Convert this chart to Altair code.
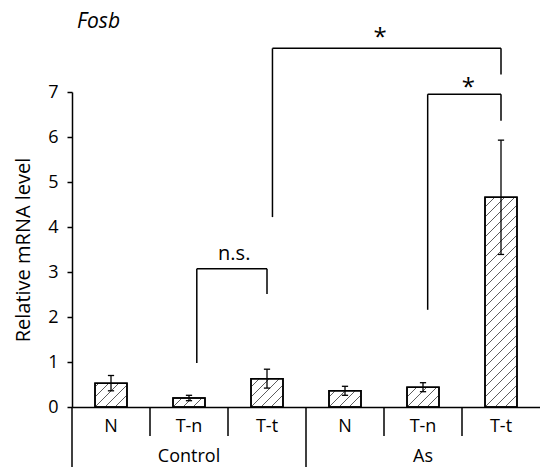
import altair as alt
import pandas as pd

# ---- data ----
groups = ["Control", "Control", "Control", "As", "As", "As"]
conditions = ["N", "T-n", "T-t", "N", "T-n", "T-t"]
means = [0.53, 0.20, 0.63, 0.36, 0.44, 4.66]
errors = [0.17, 0.06, 0.21, 0.10, 0.10, 1.27]

group_names = ["Control", "As"]
y_ticks = [0, 1, 2, 3, 4, 5, 6, 7]

# significance brackets (positions in category index units / y units)
br_left = [1.60, 2.57, 4.56]
br_right = [2.50, 5.50, 5.50]
br_top = [3.07, 7.97, 6.95]
br_left_bottom = [0.98, 4.22, 2.16]
br_right_bottom = [2.51, 7.39, 6.36]
br_label = ["n.s.", "*", "*"]
br_label_x = [2.08, 3.95, 5.08]
br_label_y = [3.27, 8.04, 6.93]

# ---- layout ----
W, H = 468, 315
N = len(conditions)
YMAX = 7
xpu = W / N
ypu = H / YMAX
half_w = 0.205
font = "Open Sans"

idx = list(range(N))
centers = [i + 0.5 for i in idx]
bars = pd.DataFrame({
    "x": centers,
    "x0": [c - half_w for c in centers],
    "x1": [c + half_w for c in centers],
    "mean": means,
    "lo": [m - e for m, e in zip(means, errors)],
    "hi": [m + e for m, e in zip(means, errors)],
    "cl": [c - 0.04 for c in centers],
    "cr": [c + 0.04 for c in centers],
    "cond": conditions,
    "group": groups,
})

# hatch segments (diagonal "/" lines) derived from each bar's extent
spacing = 10.0
hatch_rows = []
for c, m in zip(centers, means):
    lx = (c - half_w) * xpu
    w = 2 * half_w * xpu
    h = m * ypu
    k = -int(w / spacing) - 1
    while k * spacing < h:
        off = k * spacing
        u0 = max(0.0, -off)
        u1 = min(w, h - off)
        if u1 - u0 > 0.5:
            hatch_rows.append({
                "hx": (lx + u0) / xpu, "hy": (u0 + off) / ypu,
                "hx2": (lx + u1) / xpu, "hy2": (u1 + off) / ypu,
            })
        k += 1
hatch = pd.DataFrame(hatch_rows)

seg_rows = []
for a, b, t, lb, rb in zip(br_left, br_right, br_top, br_left_bottom, br_right_bottom):
    seg_rows.append({"sx": a, "sx2": a, "sy": lb, "sy2": t})
    seg_rows.append({"sx": a, "sx2": b, "sy": t, "sy2": t})
    seg_rows.append({"sx": b, "sx2": b, "sy": t, "sy2": rb})
segs = pd.DataFrame(seg_rows)
labels = pd.DataFrame({"lx": br_label_x, "ly": br_label_y, "txt": br_label,
                       "fs": [20, 24, 24]})

xs = alt.Scale(domain=[0, N], nice=False, zero=False)
ys = alt.Scale(domain=[0, YMAX], nice=False)

base_x_axis = alt.Axis(labels=False, ticks=False, title=None, grid=False,
                       domainColor="black", domainWidth=1.5)
y_axis = alt.Axis(values=y_ticks, title="Relative mRNA level", grid=False,
                  domainColor="black", domainWidth=1.5, tickColor="black",
                  tickWidth=1.5, tickSize=5, labelFontSize=18, labelFont=font,
                  labelColor="black", labelPadding=9, titleFont=font,
                  titleFontSize=20, titleFontWeight="normal", titleColor="black",
                  titlePadding=14)

bar_layer = alt.Chart(bars).mark_rect(fill="white", stroke="black", strokeWidth=1.5).encode(
    x=alt.X("x0:Q", scale=xs, axis=base_x_axis),
    x2="x1:Q",
    y=alt.Y("mean:Q", scale=ys, axis=y_axis),
    y2=alt.datum(0),
)

hatch_layer = alt.Chart(hatch).mark_rule(color="#333333", strokeWidth=0.8).encode(
    x=alt.X("hx:Q", scale=xs), x2="hx2:Q",
    y=alt.Y("hy:Q", scale=ys), y2="hy2:Q",
)

bar_outline = alt.Chart(bars).mark_rect(fill=None, stroke="black", strokeWidth=1.5).encode(
    x=alt.X("x0:Q", scale=xs), x2="x1:Q",
    y=alt.Y("mean:Q", scale=ys), y2=alt.datum(0),
)

err_v = alt.Chart(bars).mark_rule(color="black", strokeWidth=1.3).encode(
    x=alt.X("x:Q", scale=xs), y=alt.Y("lo:Q", scale=ys), y2="hi:Q",
)
cap_hi = alt.Chart(bars).mark_rule(color="black", strokeWidth=1.3).encode(
    x=alt.X("cl:Q", scale=xs), x2="cr:Q", y=alt.Y("hi:Q", scale=ys),
)
cap_lo = alt.Chart(bars).mark_rule(color="black", strokeWidth=1.3).encode(
    x=alt.X("cl:Q", scale=xs), x2="cr:Q", y=alt.Y("lo:Q", scale=ys),
)

seg_layer = alt.Chart(segs).mark_rule(color="black", strokeWidth=1.5).encode(
    x=alt.X("sx:Q", scale=xs), x2="sx2:Q",
    y=alt.Y("sy:Q", scale=ys), y2="sy2:Q",
)
lab_layer = alt.Chart(labels).mark_text(font=font, color="black",
                                        baseline="alphabetic", align="center").encode(
    x=alt.X("lx:Q", scale=xs), y=alt.Y("ly:Q", scale=ys), text="txt:N",
    size=alt.Size("fs:Q", scale=None, legend=None),
)

# two-level category axis
cat_text = alt.Chart(bars).mark_text(font=font, fontSize=18, color="black",
                                     baseline="middle").encode(
    x=alt.X("x:Q", scale=xs), y=alt.value(H + 20), text="cond:N",
)
grp = pd.DataFrame({"gx": [1.5, 4.5], "g": group_names})
grp_text = alt.Chart(grp).mark_text(font=font, fontSize=18, color="black",
                                    baseline="middle").encode(
    x=alt.X("gx:Q", scale=xs), y=alt.value(H + 50), text="g:N",
)
inner_sep = pd.DataFrame({"px": [1, 2, 4, 5]})
outer_sep = pd.DataFrame({"px": [0, 3]})
inner_layer = alt.Chart(inner_sep).mark_rule(color="black", strokeWidth=1.5).encode(
    x=alt.X("px:Q", scale=xs), y=alt.value(H), y2=alt.value(H + 29),
)
outer_layer = alt.Chart(outer_sep).mark_rule(color="black", strokeWidth=1.5).encode(
    x=alt.X("px:Q", scale=xs), y=alt.value(H), y2=alt.value(H + 62),
)

title_layer = alt.Chart(grp.head(1)).mark_text(
    font=font, fontSize=21, fontStyle="italic", color="black",
    align="left", baseline="middle").encode(
    x=alt.value(5), y=alt.value(-70), text=alt.value("Fosb"),
)

chart = alt.layer(
    bar_layer, hatch_layer, bar_outline, err_v, cap_hi, cap_lo,
    seg_layer, lab_layer, cat_text, grp_text, inner_layer, outer_layer, title_layer,
).properties(
    width=W, height=H,
    autosize=alt.AutoSizeParams(type="none"),
    padding={"left": 72, "top": 92, "right": 0, "bottom": 60},
).configure_view(stroke=None, clip=False)

chart.save("out.html", embed_options={"renderer": "svg", "actions": False})
